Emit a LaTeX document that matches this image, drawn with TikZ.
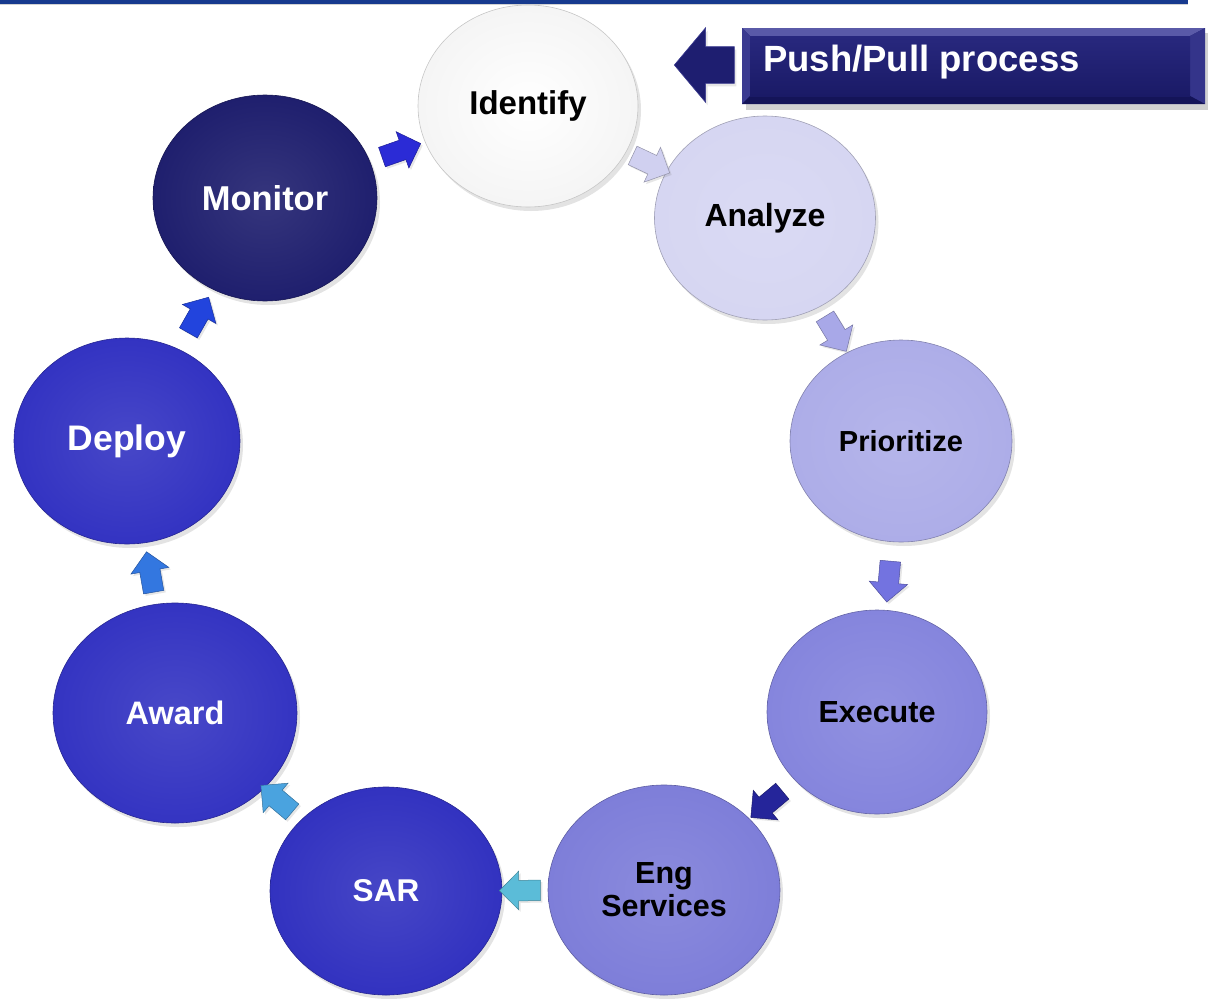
\documentclass[tikz,border=0pt]{standalone}
\usepackage{fontspec}
\setmainfont{Liberation Sans}
\usetikzlibrary{shapes.geometric,shapes.arrows,shadows,calc}
\definecolor{cTop}{HTML}{173A8E}
\definecolor{cIdent}{HTML}{F2F2F4}
\definecolor{cAnal}{HTML}{D6D6F2}
\definecolor{cPrio}{HTML}{ADADE8}
\definecolor{cExec}{HTML}{8585DD}
\definecolor{cEng}{HTML}{7E7ED9}
\definecolor{cSar}{HTML}{3232C0}
\definecolor{cAward}{HTML}{3434C2}
\definecolor{cDeploy}{HTML}{3333C2}
\definecolor{cMon}{HTML}{1F1F6E}
\definecolor{aA}{HTML}{2B2BD6}
\definecolor{aB}{HTML}{D0D0F0}
\definecolor{aC}{HTML}{A8A8E8}
\definecolor{aD}{HTML}{7373E0}
\definecolor{aE}{HTML}{25259A}
\definecolor{aF}{HTML}{5BBCD8}
\definecolor{aG}{HTML}{4AA3DF}
\definecolor{aH}{HTML}{3377E0}
\definecolor{aI}{HTML}{2244DD}
\definecolor{cBox}{HTML}{1E1E70}
\definecolor{bTop}{HTML}{5A5AA8}
\definecolor{bLeft}{HTML}{3A3A90}
\definecolor{bRight}{HTML}{34348A}
\definecolor{bBot}{HTML}{141458}
\definecolor{bFaceT}{HTML}{28287E}
\definecolor{bFaceB}{HTML}{1A1A66}
\begin{document}
\begin{tikzpicture}[x=1pt,y=-1pt,
  circ/.style n args={4}{ellipse, inner sep=0pt, minimum width=#1, minimum height=#2,
     inner color=#3!90!white, outer color=#3, draw=#3!75!black, line width=0.6pt,
     text=#4, font=\fontsize{33}{38}\bfseries\selectfont, align=center,
     drop shadow={shadow xshift=3pt, shadow yshift=-4pt, opacity=0.22}},
  arrowbox/.style={single arrow, inner xsep=0pt, inner ysep=10pt, minimum height=41pt,
     single arrow head extend=9pt, draw=#1!70!black, line width=0.5pt, fill=#1,
     drop shadow={shadow xshift=2pt, shadow yshift=-2pt, opacity=0.2}},
  ]
\useasboundingbox (0,0) rectangle (1208,999);
% top rule
\fill[cTop] (0,0) rectangle (1188,3.5);
\fill[gray!35] (0,3.5) rectangle (1188,4.5);

% circles
\node[circ={220pt}{202pt}{cIdent}{black}, inner color=white, outer color=gray!8, draw=gray!45] (identify) at (528,106) {Identify};
\node[circ={221pt}{204pt}{cAnal}{black}, font=\fontsize{32}{38}\bfseries\selectfont] (analyze) at (765,218) {Analyze};
\node[circ={222pt}{202pt}{cPrio}{black}, font=\fontsize{29}{34}\bfseries\selectfont] (prioritize) at (901,441) {Prioritize};
\node[circ={220pt}{204pt}{cExec}{black}, font=\fontsize{30.5}{36}\bfseries\selectfont] (execute) at (877,712) {Execute};
\node[circ={232pt}{210pt}{cEng}{black}, font=\fontsize{30.5}{33}\bfseries\selectfont] (eng) at (664,890) {Eng\\Services};
\node[circ={232pt}{208pt}{cSar}{white}, font=\fontsize{31.5}{36}\bfseries\selectfont] (sar) at (386,891) {SAR};
\node[circ={244pt}{220pt}{cAward}{white}, font=\fontsize{32.5}{38}\bfseries\selectfont] (award) at (175,713) {Award};
\node[circ={226pt}{206pt}{cDeploy}{white}, font=\fontsize{35.5}{40}\bfseries\selectfont] (deploy) at (127,441) {Deploy};
\node[circ={224pt}{206pt}{cMon}{white}, font=\fontsize{34.5}{40}\bfseries\selectfont] (monitor) at (265,198) {Monitor};

% cycle arrows
\foreach \a/\b/\c [count=\i] in {monitor/identify/aA, identify/analyze/aB, analyze/prioritize/aC,
    prioritize/execute/aD, execute/eng/aE, eng/sar/aF, sar/award/aG, award/deploy/aH, deploy/monitor/aI}{
  \path let \p1=($(\b)-(\a)$), \n1={atan2(\y1,\x1)} in
    node[arrowbox=\c, rotate=\n1] (arr\i) at ($(\a)!0.5!(\b)$) {};
}

% Push/Pull box
\fill[black, opacity=0.18] (746,33) rectangle (1209,110);
\fill[cBox] (742,28) rectangle (1205,104);
\fill[bTop] (742,28) -- (1205,28) -- (1190,36) -- (750,36) -- cycle;
\fill[bLeft] (742,28) -- (750,36) -- (750,96) -- (742,104) -- cycle;
\fill[bRight] (1205,28) -- (1205,104) -- (1190,96) -- (1190,36) -- cycle;
\fill[bBot] (742,104) -- (1205,104) -- (1190,96) -- (750,96) -- cycle;
\shade[top color=bFaceT, bottom color=bFaceB] (750,36) rectangle (1190,96);
\node[anchor=west, text=white, inner sep=0pt, font=\fontsize{36.5}{40}\bfseries\selectfont] (pp) at (763,62) {Push/Pull process};
\node[single arrow, shape border rotate=180, inner xsep=0pt, inner ysep=18pt, minimum height=60pt,
      single arrow head extend=19pt, single arrow tip angle=100, fill=cBox, draw=bLeft, line width=0.6pt,
      drop shadow={shadow xshift=2pt, shadow yshift=-3pt, opacity=0.2}] (pparrow) at (712,65) {};
\end{tikzpicture}
\end{document}
